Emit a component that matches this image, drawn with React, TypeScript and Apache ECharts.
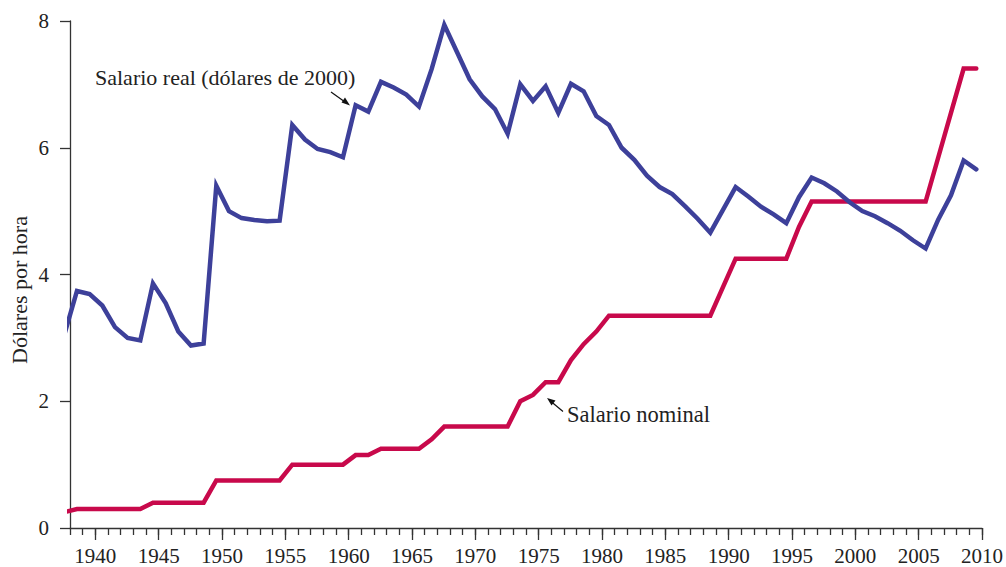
import React, { useEffect, useRef } from "react";
import * as echarts from "echarts";

// Años (datos anuales)
const years: number[] = [];
for (let y = 1938; y <= 2010; y++) years.push(y);

// Salario mínimo nominal (dólares corrientes por hora)
const nominal = [
  0.25,
  0.30, 0.30, 0.30, 0.30, 0.30, 0.30,
  0.40, 0.40, 0.40, 0.40, 0.40,
  0.75, 0.75, 0.75, 0.75, 0.75, 0.75,
  1.00, 1.00, 1.00, 1.00, 1.00,
  1.15, 1.15,
  1.25, 1.25, 1.25, 1.25,
  1.40,
  1.60, 1.60, 1.60, 1.60, 1.60, 1.60,
  2.00,
  2.10,
  2.30, 2.30,
  2.65,
  2.90,
  3.10,
  3.35, 3.35, 3.35, 3.35, 3.35, 3.35, 3.35, 3.35, 3.35,
  3.80,
  4.25, 4.25, 4.25, 4.25, 4.25,
  4.75,
  5.15, 5.15, 5.15, 5.15, 5.15, 5.15, 5.15, 5.15, 5.15, 5.15,
  5.85,
  6.55,
  7.25,
  7.25,
];

// Salario real (dólares de 2000 por hora)
const real = [
  3.05, 3.74, 3.69, 3.51, 3.17, 3.0, 2.96, 3.86, 3.55, 3.1,
  2.88, 2.91, 5.4, 5.0, 4.89, 4.86, 4.84, 4.85, 6.36, 6.13,
  5.98, 5.93, 5.85, 6.67, 6.57, 7.04, 6.95, 6.84, 6.65, 7.24,
  7.94, 7.51, 7.08, 6.81, 6.61, 6.22, 7.0, 6.74, 6.97, 6.55,
  7.01, 6.89, 6.5, 6.36, 6.0, 5.81, 5.56, 5.38, 5.27, 5.08,
  4.88, 4.66, 5.02, 5.38, 5.23, 5.07, 4.95, 4.81, 5.22, 5.53,
  5.44, 5.31, 5.14, 5.0, 4.92, 4.81, 4.69, 4.54, 4.41, 4.87,
  5.25, 5.8, 5.66,
];

// Los puntos aparecen desplazados respecto a las marcas de año en el original
const X_SHIFT = -0.45;

const xTickValues: number[] = [];
for (let y = 1938; y <= 2010; y++) xTickValues.push(y);
const xLabelValues = [1940, 1945, 1950, 1955, 1960, 1965, 1970, 1975, 1980, 1985, 1990, 1995, 2000, 2005, 2010];
const yTicks = [0, 2, 4, 6, 8];

const FONT = "'Liberation Serif', 'Times New Roman', serif";
const BLUE = "#3d409a";
const RED = "#c8094b";
const AXIS = "#333333";

export default function App() {
  const ref = useRef<HTMLDivElement>(null);

  useEffect(() => {
    if (!ref.current) return;
    const chart = echarts.init(ref.current, undefined, { renderer: "svg" });
    const realData = years.map((y, i) => [y + X_SHIFT, real[i]]);
    const nomData = years.map((y, i) => [y + X_SHIFT, nominal[i]]);

    chart.setOption({
      animation: false,
      backgroundColor: "#ffffff",
      grid: { left: 70, right: 23, top: 21, bottom: 39, containLabel: false },
      xAxis: [
        {
          type: "value",
          min: 1938,
          max: 2010,
          axisLine: { show: true, lineStyle: { color: AXIS, width: 1.3 } },
          axisTick: { show: true, customValues: xTickValues, length: 7, lineStyle: { color: AXIS, width: 1.3 } },
          axisLabel: {
            show: true,
            customValues: xLabelValues,
            formatter: (v: number) => String(v),
            fontFamily: FONT,
            fontSize: 21,
            color: "#222",
            margin: 17,
          },
          splitLine: { show: false },
        },
        {
          type: "value",
          min: 1938,
          max: 2010,
          position: "bottom",
          offset: 0,
          axisLine: { show: true, lineStyle: { color: "rgba(0,0,0,0)", width: 0 } },
          axisTick: { show: true, customValues: xLabelValues, length: 12, lineStyle: { color: AXIS, width: 1.3 } },
          axisLabel: { show: true, customValues: xLabelValues, formatter: () => "" },
          splitLine: { show: false },
        },
      ],
      yAxis: {
        type: "value",
        min: 0,
        max: 8,
        interval: 2,
        axisLine: { show: true, lineStyle: { color: AXIS, width: 1.3 } },
        axisTick: { show: true, length: 10, lineStyle: { color: AXIS, width: 1.3 } },
        axisLabel: {
          fontFamily: FONT,
          fontSize: 21,
          color: "#222",
          margin: 21,
          customValues: yTicks,
        },
        splitLine: { show: false },
      },
      series: [
        {
          type: "line",
          name: "Salario real (dólares de 2000)",
          data: realData,
          showSymbol: false,
          clip: true,
          lineStyle: { color: BLUE, width: 4.5, join: "miter", cap: "round" },
          z: 3,
        },
        {
          type: "line",
          name: "Salario nominal",
          data: nomData,
          showSymbol: false,
          clip: true,
          lineStyle: { color: RED, width: 4.5, join: "miter", cap: "round" },
          z: 2,
        },
      ],
      graphic: [
        {
          type: "text",
          x: 19,
          y: 290,
          rotation: Math.PI / 2,
          style: {
            text: "Dólares por hora",
            fontFamily: FONT,
            fontSize: 22,
            fill: "#222",
            align: "center",
            verticalAlign: "middle",
          },
        },
        {
          type: "text",
          x: 95,
          y: 77,
          style: {
            text: "Salario real (dólares de 2000)",
            fontFamily: FONT,
            fontSize: 22,
            fill: "#222",
            align: "left",
            verticalAlign: "middle",
          },
        },
        {
          type: "line",
          shape: { x1: 331, y1: 92, x2: 345, y2: 102 },
          style: { stroke: "#111", lineWidth: 1.2 },
        },
        {
          type: "polygon",
          shape: { points: [[350, 105.5], [341.5, 102.5], [345, 97.5]] },
          style: { fill: "#111" },
        },
        {
          type: "text",
          x: 567,
          y: 414,
          style: {
            text: "Salario nominal",
            fontFamily: FONT,
            fontSize: 22.5,
            fill: "#222",
            align: "left",
            verticalAlign: "middle",
          },
        },
        {
          type: "line",
          shape: { x1: 563, y1: 411.5, x2: 551, y2: 401.5 },
          style: { stroke: "#111", lineWidth: 1.2 },
        },
        {
          type: "polygon",
          shape: { points: [[547, 398], [555.5, 400.5], [551.5, 405.5]] },
          style: { fill: "#111" },
        },
      ],
    });

    return () => chart.dispose();
  }, []);

  return <div ref={ref} style={{ width: 1006, height: 567, position: "absolute", left: 0, top: 0 }} />;
}
